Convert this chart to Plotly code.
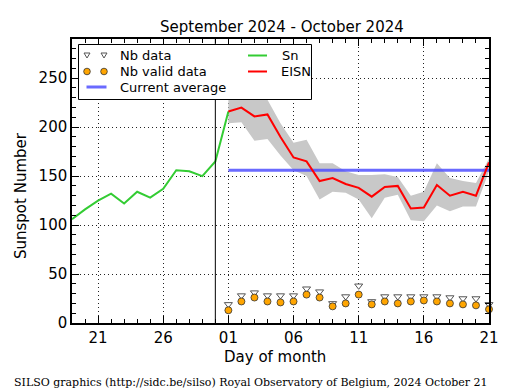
import plotly.graph_objects as go

# ---------------- data ----------------
sn_dates = ["2024-09-19", "2024-09-20", "2024-09-21", "2024-09-22", "2024-09-23",
            "2024-09-24", "2024-09-25", "2024-09-26", "2024-09-27", "2024-09-28",
            "2024-09-29", "2024-09-30", "2024-10-01"]
sn_values = [106, 116, 125, 132, 122, 134, 128, 137, 156, 155, 150, 165, 216]

oct_dates = ["2024-10-%02d" % d for d in [1, 2, 3, 4, 5, 6, 7, 8, 9, 10, 11,
                                           12, 13, 14, 15, 16, 17, 18, 19, 20, 21]]
eisn_values = [216, 220, 211, 213, 190, 169, 165, 145, 148, 142, 138,
               129, 139, 140, 117, 118, 141, 130, 134, 130, 164]
eisn_upper = [228, 231, 228, 228, 204, 184, 187, 163, 163, 155, 151,
              151, 152, 149, 130, 134, 163, 148, 145, 143, 168]
eisn_lower = [204, 205, 186, 188, 171, 156, 150, 126, 134, 133, 126,
              107, 128, 131, 105, 104, 120, 114, 119, 119, 155]
nb_data = [19, 28, 31, 28, 28, 28, 35, 32, 20, 27, 38,
           22, 27, 27, 27, 27, 27, 26, 25, 25, 19]
nb_valid = [13, 22, 26, 22, 21, 22, 29, 26, 17, 20, 29,
            19, 22, 20, 22, 23, 22, 20, 19, 18, 14]
current_average = 156
month_break = "2024-09-30"

x_range = ["2024-09-19", "2024-10-21"]
y_range = [0, 290]
x_tickvals = ["2024-09-21", "2024-09-26", "2024-10-01", "2024-10-06",
              "2024-10-11", "2024-10-16", "2024-10-21"]
x_ticktext = ["21", "26", "01", "06", "11", "16", "21"]

# ---------------- figure ----------------
W, H = 515, 390
L, R, T, B = 72, 26, 39, 67
PW, PH = W - L - R, H - T - B

FONT = "DejaVu Sans"
fig = go.Figure()

# uncertainty band
fig.add_trace(go.Scatter(x=oct_dates, y=eisn_lower, mode="lines",
                         line=dict(width=0, color="#c8c8c8"), showlegend=False,
                         hoverinfo="skip"))
fig.add_trace(go.Scatter(x=oct_dates, y=eisn_upper, mode="lines",
                         line=dict(width=0, color="#c8c8c8"), fill="tonexty",
                         fillcolor="#c8c8c8", showlegend=False, hoverinfo="skip"))
# current average
fig.add_trace(go.Scatter(x=[oct_dates[0], oct_dates[-1]],
                         y=[current_average, current_average], mode="lines",
                         line=dict(color="rgba(80,80,255,0.85)", width=3),
                         showlegend=False))
# Sn
fig.add_trace(go.Scatter(x=sn_dates, y=sn_values, mode="lines",
                         line=dict(color="#33cc33", width=2), showlegend=False))
# EISN
fig.add_trace(go.Scatter(x=oct_dates, y=eisn_values, mode="lines",
                         line=dict(color="#ff0000", width=2), showlegend=False))
# Nb data
fig.add_trace(go.Scatter(x=oct_dates, y=nb_data, mode="markers",
                         marker=dict(symbol="triangle-down", size=7, color="white",
                                     line=dict(color="#555555", width=1)),
                         showlegend=False, cliponaxis=False))
# Nb valid data
fig.add_trace(go.Scatter(x=oct_dates, y=nb_valid, mode="markers",
                         marker=dict(symbol="circle", size=7, color="#ffa500",
                                     line=dict(color="#333333", width=0.8)),
                         showlegend=False, cliponaxis=False))

# ---------------- manual legend ----------------
def px(x):
    return (x - L) / PW

def py(y):
    return (H - B - y) / PH

shapes = []
shapes.append(dict(type="line", xref="x", yref="paper", x0=month_break, x1=month_break,
                   y0=0, y1=1, line=dict(color="black", width=1), layer="above"))
shapes.append(dict(type="rect", xref="paper", yref="paper",
                   x0=px(78.5), x1=px(311.5), y0=py(99.5), y1=py(44.5),
                   fillcolor="white", line=dict(color="black", width=1), layer="above"))
rows = [55.5, 71.5, 87]
# triangles
for cx in (87, 104):
    cy = rows[0]
    path = "M {} {} L {} {} L {} {} Z".format(px(cx - 3), py(cy - 2.5), px(cx + 3), py(cy - 2.5),
                                              px(cx), py(cy + 2.5))
    shapes.append(dict(type="path", xref="paper", yref="paper", path=path,
                       fillcolor="white", line=dict(color="#555555", width=1), layer="above"))
# circles
for cx in (87, 104):
    cy = rows[1]
    shapes.append(dict(type="circle", xref="paper", yref="paper",
                       x0=px(cx - 3.3), x1=px(cx + 3.3), y0=py(cy + 3.3), y1=py(cy - 3.3),
                       fillcolor="#ffa500", line=dict(color="#333333", width=0.8), layer="above"))
# lines
shapes.append(dict(type="line", xref="paper", yref="paper", x0=px(86.5), x1=px(106.5),
                   y0=py(rows[2]), y1=py(rows[2]),
                   line=dict(color="rgba(80,80,255,0.85)", width=3), layer="above"))
shapes.append(dict(type="line", xref="paper", yref="paper", x0=px(248), x1=px(267),
                   y0=py(rows[0]), y1=py(rows[0]), line=dict(color="#33cc33", width=2), layer="above"))
shapes.append(dict(type="line", xref="paper", yref="paper", x0=px(248), x1=px(267),
                   y0=py(rows[1]), y1=py(rows[1]), line=dict(color="#ff0000", width=2), layer="above"))

annotations = []
for txt, xx, yy in [("Nb data", 118, rows[0]), ("Nb valid data", 118, rows[1]),
                    ("Current average", 118, rows[2]), ("Sn", 280, rows[0]),
                    ("EISN", 279, rows[1])]:
    annotations.append(dict(text=txt, xref="paper", yref="paper", x=px(xx), y=py(yy),
                            xanchor="left", yanchor="middle", showarrow=False,
                            font=dict(family=FONT, size=13, color="black")))

# titles
annotations.append(dict(text="September 2024 - October 2024", xref="paper", yref="paper",
                        x=px(281.5), y=py(26.5), xanchor="center", yanchor="middle",
                        showarrow=False, font=dict(family=FONT, size=15, color="black")))
annotations.append(dict(text="Day of month", xref="paper", yref="paper",
                        x=px(275), y=py(357), xanchor="center", yanchor="middle",
                        showarrow=False, font=dict(family=FONT, size=15, color="black")))
annotations.append(dict(text="Sunspot Number", xref="paper", yref="paper",
                        x=px(21), y=py(196), xanchor="center", yanchor="middle", textangle=-90,
                        showarrow=False, font=dict(family=FONT, size=15, color="black")))
annotations.append(dict(text="SILSO graphics (http://sidc.be/silso) Royal Observatory of Belgium, 2024 October 21",
                        xref="paper", yref="paper", x=px(12), y=py(382),
                        xanchor="left", yanchor="middle", showarrow=False,
                        font=dict(family="DejaVu Serif", size=11, color="black")))

fig.update_layout(
    width=W, height=H,
    margin=dict(l=L, r=R, t=T, b=B, autoexpand=False),
    paper_bgcolor="white", plot_bgcolor="white",
    font=dict(family=FONT, size=15, color="black"),
    showlegend=False,
)
fig.layout.shapes = shapes
fig.layout.annotations = annotations
fig.update_xaxes(
    type="date", range=x_range, tickvals=x_tickvals, ticktext=x_ticktext,
    ticks="inside", ticklen=7, tickwidth=1, tickcolor="black",
    showline=True, linecolor="black", linewidth=1.5, mirror="ticks",
    showgrid=True, gridcolor="#222222", griddash="1px,3px", gridwidth=1,
    minor=dict(dtick=86400000, tick0="2024-09-19", ticks="inside", ticklen=4,
               tickcolor="black", showgrid=False),
    tickfont=dict(family=FONT, size=15), zeroline=False,
)
fig.update_yaxes(
    range=y_range, tickvals=[0, 50, 100, 150, 200, 250],
    ticks="inside", ticklen=7, tickwidth=1, tickcolor="black",
    showline=True, linecolor="black", linewidth=1.5, mirror="ticks",
    showgrid=True, gridcolor="#222222", griddash="1px,3px", gridwidth=1,
    minor=dict(dtick=10, ticks="inside", ticklen=4, tickcolor="black", showgrid=False),
    tickfont=dict(family=FONT, size=15), zeroline=False,
)

fig.write_html("out.html", config={"displayModeBar": False},
               post_script="document.body.style.margin='0';document.body.style.padding='0';")
